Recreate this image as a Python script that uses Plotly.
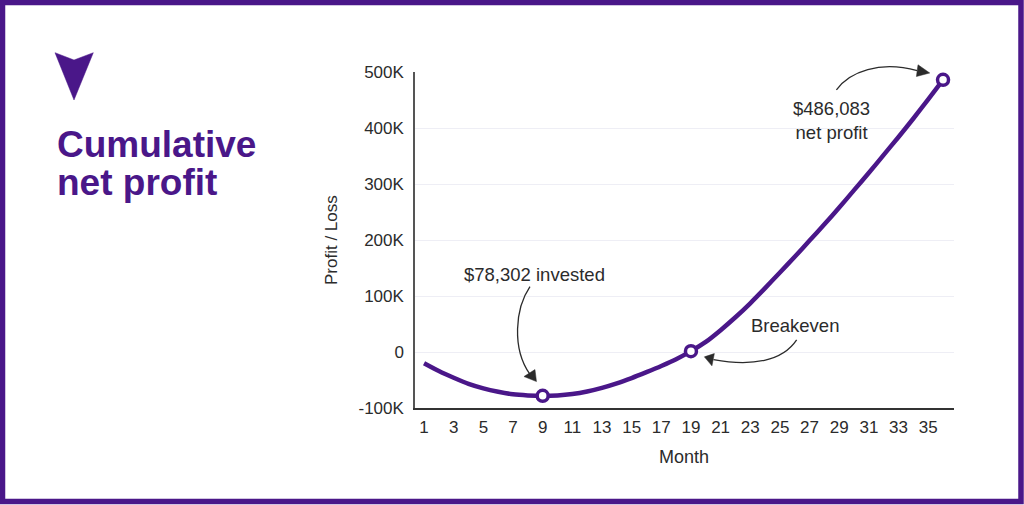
import plotly.graph_objects as go

# Cumulative net profit by month
months = list(range(1, 37))
profit = [
    -20000, -34000, -46000, -57000, -65000, -71000, -75500, -77500, -78302,
    -77500, -75000, -70500, -64000, -56000, -46500, -36000, -25000, -13000,
    1500, 18000, 39000, 62000, 87000, 114000, 142000, 170000, 199000,
    228000, 258000, 289000, 320000, 352000, 384000, 417000, 451000, 486083,
]

# highlighted points: minimum, breakeven, final month
marked_months = [9, 19, 36]

x_ticks = list(range(1, 36, 2))
y_ticks = [-100000, 0, 100000, 200000, 300000, 400000, 500000]
y_tick_text = ["-100K", "0", "100K", "200K", "300K", "400K", "500K"]

X_RANGE = [0.39, 36.74]
Y_RANGE = [-100000, 500000]

PURPLE = "#4a1789"
INK = "#2b2b2b"
FONT = "Liberation Sans"

W, H = 1024, 505
ML, MR, MT, MB = 415, 70, 72, 97
PW, PH = W - ML - MR, H - MT - MB


def px(x):
    # page pixel -> paper x
    return (x - ML) / PW


def py(y):
    # page pixel -> paper y
    return (H - MB - y) / PH


def data_to_paper(xv, yv):
    return ((xv - X_RANGE[0]) / (X_RANGE[1] - X_RANGE[0]),
            (yv - Y_RANGE[0]) / (Y_RANGE[1] - Y_RANGE[0]))


fig = go.Figure()

fig.add_trace(go.Scatter(
    x=months, y=profit, mode="lines",
    line=dict(color=PURPLE, width=4.5, shape="spline", smoothing=0.6),
    hoverinfo="skip", showlegend=False,
))

mark_y = [profit[months.index(m)] for m in marked_months]
fig.add_trace(go.Scatter(
    x=marked_months, y=mark_y, mode="markers",
    marker=dict(size=11, color="white", line=dict(color=PURPLE, width=3.5)),
    showlegend=False, cliponaxis=False,
))


def arrow(xv, yv, curve, head):
    # curve / head given as pixel offsets from the data point (y up)
    ax, ay = data_to_paper(xv, yv)
    (sx, sy), (c1x, c1y), (c2x, c2y), (ex, ey) = curve
    path = f"M{sx},{sy} C{c1x},{c1y} {c2x},{c2y} {ex},{ey}"
    common = dict(xref="paper", yref="paper", xsizemode="pixel", ysizemode="pixel",
                  xanchor=ax, yanchor=ay, layer="above")
    fig.add_shape(type="path", path=path, line=dict(color=INK, width=1.3), **common)
    (tx, ty), (b1x, b1y), (b2x, b2y) = head
    fig.add_shape(type="path", path=f"M{tx},{ty} L{b1x},{b1y} L{b2x},{b2y} Z",
                  fillcolor=INK, line=dict(color=INK, width=0.5), **common)


arrow(9, -78302,
      [(-12.7, 109.3), (-27.7, 87.3), (-30.7, 47.3), (-13, 22)],
      [(-6.2, 14.3), (-18.7, 19.3), (-7.7, 26.3)])
arrow(19, 1500,
      [(105.7, 11.3), (91.7, -9.7), (61.7, -15.7), (22.5, -8.5)],
      [(13.4, -5.7), (23.4, -2.4), (21, -14.7)])
arrow(36, 486083,
      [(-106.6, -10), (-93.3, 8.3), (-63.3, 19.3), (-25.8, 9.2)],
      [(-13.3, 6.8), (-25, 15), (-26.6, 3.3)])

# outer frame
fig.add_shape(type="rect", xref="paper", yref="paper",
              x0=px(2.5), x1=px(1021), y0=py(2.5), y1=py(501.5),
              line=dict(color=PURPLE, width=5.5), layer="above")

# icon
fig.add_shape(type="path", xref="paper", yref="paper",
              path=(f"M{px(55)},{py(52.7)} L{px(74)},{py(60)} L{px(93.3)},{py(52.7)} "
                    f"L{px(74)},{py(100)} Z"),
              fillcolor=PURPLE, line=dict(color=PURPLE, width=0.5))

notes = [
    ("Cumulative", 55, 144.2, "left", 37, PURPLE, True),
    ("net profit", 55, 182.2, "left", 37, PURPLE, True),
    ("$78,302 invested", 534, 274, "center", 18.5, INK, False),
    ("Breakeven", 795, 325, "center", 18.5, INK, False),
    ("$486,083<br>net profit", 831.7, 120, "center", 18.5, INK, False),
    ("Month", 684, 457, "center", 18, INK, False),
]
for text, x, y, anchor, size, color, bold in notes:
    fig.add_annotation(
        text=f"<b>{text}</b>" if bold else text,
        xref="paper", yref="paper", x=px(x), y=py(y),
        xanchor=anchor, yanchor="middle", showarrow=False,
        font=dict(family=FONT, size=size, color=color),
    )

fig.add_annotation(
    text="Profit / Loss", xref="paper", yref="paper", x=px(331), y=py(240),
    xanchor="center", yanchor="middle", textangle=-90, showarrow=False,
    font=dict(family=FONT, size=17, color=INK),
)

fig.update_layout(
    width=W, height=H,
    margin=dict(l=ML, r=MR, t=MT, b=MB),
    paper_bgcolor="white", plot_bgcolor="white",
    font=dict(family=FONT, size=17, color=INK),
    showlegend=False,
    xaxis=dict(
        range=X_RANGE, tickvals=x_ticks, showgrid=False, zeroline=False,
        showline=True, linecolor="#333333", linewidth=1.5, ticks="",
        ticklabelstandoff=3, tickfont=dict(size=17, color=INK),
    ),
    yaxis=dict(
        range=Y_RANGE, tickvals=y_ticks, ticktext=y_tick_text,
        showgrid=True, gridcolor="#eeeef5", gridwidth=1, zeroline=False,
        showline=True, linecolor="#555555", linewidth=1.5, ticks="",
        ticklabelstandoff=6, tickfont=dict(size=17, color=INK),
    ),
)

fig.write_html(
    "out.html",
    config={"displayModeBar": False},
    post_script="document.body.style.margin='0';document.body.style.overflow='hidden';",
)
